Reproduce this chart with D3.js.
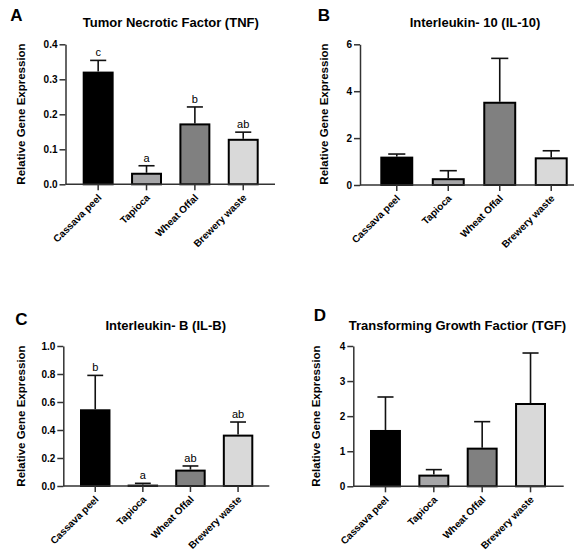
<!DOCTYPE html>
<html>
<head>
<meta charset="utf-8">
<script src="https://cdn.jsdelivr.net/npm/d3@7"></script>
<style>
  html, body { margin: 0; padding: 0; background: #fff; }
  svg { display: block; font-family: "Liberation Sans", Arial, sans-serif; }
</style>
</head>
<body>
<svg id="chart" width="583" height="553"></svg>
<script>
// ---------------- data ----------------
const categories = ["Cassava peel", "Tapioca", "Wheat Offal", "Brewery waste"];
const barColors = ["#000000", "#a6a6a8", "#808080", "#d9d9d9"];

const tnfMean = [0.322, 0.033, 0.174, 0.130];
const tnfErr  = [0.032, 0.020, 0.047, 0.019];
const tnfLetters = ["c", "a", "b", "ab"];

const il10Mean = [1.21, 0.29, 3.55, 1.18];
const il10Err  = [0.11, 0.32, 1.85, 0.28];

const ilbMean = [0.548, 0.010, 0.117, 0.367];
const ilbErr  = [0.242, 0.009, 0.026, 0.090];
const ilbLetters = ["b", "a", "ab", "ab"];

const tgfMean = [1.606, 0.333, 1.102, 2.375];
const tgfErr  = [0.940, 0.142, 0.741, 1.425];

const tnfTicks  = [0, 0.1, 0.2, 0.3, 0.4];
const il10Ticks = [0, 2, 4, 6];
const ilbTicks  = [0, 0.2, 0.4, 0.6, 0.8, 1.0];
const tgfTicks  = [0, 1, 2, 3, 4];

// ---------------- layout ----------------
const panels = [
  { tag: "A", title: "Tumor Necrotic Factor (TNF)", mean: tnfMean, err: tnfErr, letters: tnfLetters,
    ticks: tnfTicks, fmt: ".1f", max: 0.4,
    axisX: 65.5, axisEnd: 275, yTop: 44.3, yBot: 184.3, barL: 82.7, barR: 258.7,
    tagPos: [16.5, 15], titlePos: [170.8, 22.7], ylabPos: [20.7, 114] },
  { tag: "B", title: "Interleukin- 10 (IL-10)", mean: il10Mean, err: il10Err, letters: null,
    ticks: il10Ticks, fmt: "d", max: 6,
    axisX: 360, axisEnd: 574, yTop: 44.3, yBot: 185, barL: 380.3, barR: 567.7,
    tagPos: [324, 15], titlePos: [475, 22.7], ylabPos: [324.3, 114] },
  { tag: "C", title: "Interleukin- B (IL-B)", mean: ilbMean, err: ilbErr, letters: ilbLetters,
    ticks: ilbTicks, fmt: ".1f", max: 1.0,
    axisX: 63.3, axisEnd: 269.3, yTop: 346, yBot: 486, barL: 80, barR: 253.3,
    tagPos: [21.3, 319], titlePos: [165.7, 325.3], ylabPos: [20.7, 416] },
  { tag: "D", title: "Transforming Growth Factior (TGF)", mean: tgfMean, err: tgfErr, letters: null,
    ticks: tgfTicks, fmt: "d", max: 4,
    axisX: 353.3, axisEnd: 563.7, yTop: 346, yBot: 486.3, barL: 370, barR: 546,
    tagPos: [320, 315], titlePos: [457.5, 325.3], ylabPos: [316, 416] }
];

const svg = d3.select("#chart");
const axisColor = "#333";
const FONT = "Liberation Sans, Arial, sans-serif";

panels.forEach(p => {
  const g = svg.append("g");
  const y = d3.scaleLinear().domain([0, p.max]).range([p.yBot, p.yTop]);
  const x = d3.scaleBand().domain(categories).range([p.barL, p.barR]).paddingInner(0.36).paddingOuter(0);
  const bw = x.bandwidth();

  // panel tag
  g.append("text").attr("x", p.tagPos[0]).attr("y", p.tagPos[1]).attr("dy", "0.35em")
    .attr("text-anchor", "middle").attr("font-size", 17).attr("font-weight", "bold")
    .attr("fill", "#000").text(p.tag);

  // title
  g.append("text").attr("x", p.titlePos[0]).attr("y", p.titlePos[1]).attr("dy", "0.35em")
    .attr("text-anchor", "middle").attr("font-size", 13).attr("font-weight", "bold")
    .attr("fill", "#000").text(p.title);

  // y label
  g.append("text")
    .attr("transform", `translate(${p.ylabPos[0]},${p.ylabPos[1]}) rotate(-90)`)
    .attr("dy", "0.35em").attr("text-anchor", "middle")
    .attr("font-size", 11.5).attr("font-weight", "bold").attr("fill", "#000")
    .text("Relative Gene Expression");

  // bars
  g.selectAll("rect.bar").data(categories).enter().append("rect")
    .attr("class", "bar")
    .attr("x", d => x(d) + 1)
    .attr("y", (d, i) => y(p.mean[i]) + 1)
    .attr("width", bw - 2)
    .attr("height", (d, i) => Math.max(0, y(0) - y(p.mean[i]) - 1))
    .attr("fill", (d, i) => barColors[i])
    .attr("stroke", "#000").attr("stroke-width", 2);

  // error bars (upper only)
  const capW = bw * 0.52;
  categories.forEach((c, i) => {
    const cx = x(c) + bw / 2;
    const top = y(p.mean[i] + p.err[i]);
    g.append("line").attr("x1", cx).attr("x2", cx)
      .attr("y1", y(p.mean[i])).attr("y2", top)
      .attr("stroke", "#111").attr("stroke-width", 1.6);
    g.append("line").attr("x1", cx - capW / 2).attr("x2", cx + capW / 2)
      .attr("y1", top).attr("y2", top)
      .attr("stroke", "#111").attr("stroke-width", 1.6);
    if (p.letters) {
      g.append("text").attr("x", cx).attr("y", top - 4)
        .attr("text-anchor", "middle").attr("font-size", 11)
        .attr("fill", "#000").text(p.letters[i]);
    }
  });

  // y axis
  const yAxis = d3.axisLeft(y).tickValues(p.ticks).tickFormat(d3.format(p.fmt))
    .tickSize(6).tickPadding(2).tickSizeOuter(0);
  const ya = g.append("g").attr("transform", `translate(${p.axisX},0)`).call(yAxis);
  ya.select(".domain").attr("stroke", axisColor).attr("stroke-width", 1.5);
  ya.selectAll(".tick line").attr("stroke", axisColor).attr("stroke-width", 1.5);
  ya.selectAll(".tick text").attr("font-size", 10).attr("font-weight", "bold")
    .attr("font-family", FONT).attr("fill", "#000");

  // x axis (ticks only, labels drawn below)
  const xAxis = d3.axisBottom(x).tickSize(6).tickSizeOuter(0).tickFormat("");
  const xa = g.append("g").attr("transform", `translate(0,${p.yBot})`).call(xAxis);
  xa.select(".domain").remove();
  xa.append("line").attr("x1", p.axisX).attr("x2", p.axisEnd).attr("y1", 0).attr("y2", 0)
    .attr("stroke", axisColor).attr("stroke-width", 1.5);
  xa.selectAll(".tick line").attr("stroke", axisColor).attr("stroke-width", 1.5);

  // rotated category labels
  g.selectAll("text.xlab").data(categories).enter().append("text")
    .attr("class", "xlab")
    .attr("transform", d => `translate(${x(d) + bw / 2 + 4},${p.yBot + 14}) rotate(-45)`)
    .attr("text-anchor", "end")
    .attr("font-size", 10).attr("font-weight", "bold")
    .attr("font-family", FONT).attr("fill", "#000")
    .text(d => d);
});
</script>
</body>
</html>
